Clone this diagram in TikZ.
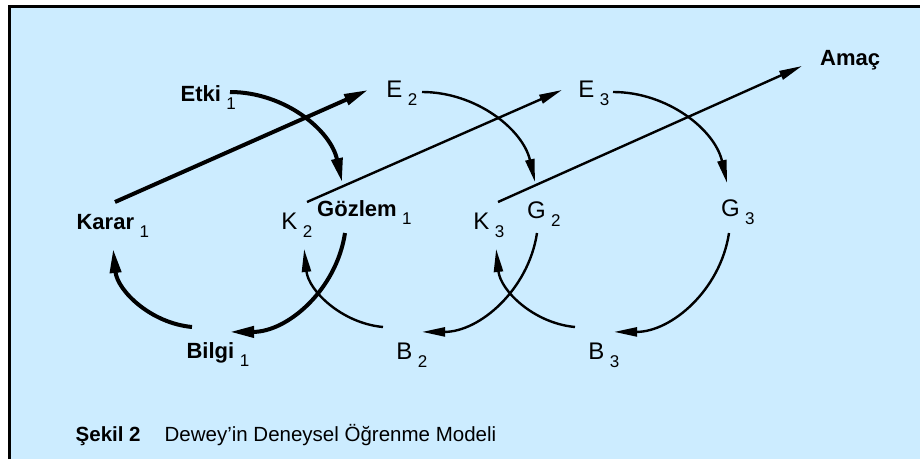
\documentclass[tikz,border=0pt]{standalone}
\usepackage{fontspec}
\setmainfont{Liberation Sans}
\usetikzlibrary{arrows.meta,calc}
\definecolor{bgblue}{RGB}{204,236,255}
\newcommand\lbsub[2]{#1\hspace{5.5pt}\raisebox{-8.5pt}{\fontsize{17}{17}\selectfont\mdseries #2}}
\begin{document}
\begin{tikzpicture}[x=1pt,y=1pt,
  lbl/.style={anchor=base west, inner sep=0pt, font=\fontsize{24}{24}\selectfont},
  blbl/.style={anchor=base west, inner sep=0pt, font=\fontsize{22}{22}\selectfont\bfseries},
  thickc/.style={line width=4pt, -{Triangle[length=24pt,width=11pt]}},
  thinc/.style={line width=2.4pt, -{Triangle[length=23pt,width=9pt]}}]
\useasboundingbox (0,0) rectangle (920,459);
\fill[white] (0,0) rectangle (920,459);
\fill[bgblue] (10,0) rectangle (920,452);
\draw[line width=2.2pt] (9.5,0) -- (9.5,452.5) -- (920,452.5);

% labels
\node[blbl] (etki)   at (180.4,358) {\lbsub{Etki}{1}};
\node[blbl] (karar)  at (76.4,230)  {\lbsub{Karar}{1}};
\node[lbl]  (k2)     at (281.2,230) {\lbsub{K}{2}};
\node[blbl] (gozlem) at (317,243)   {\lbsub{Gözlem}{1}};
\node[lbl]  (e2)     at (386.1,362) {\lbsub{E}{2}};
\node[lbl]  (e3)     at (578.1,362) {\lbsub{E}{3}};
\node[blbl] (amac)   at (820,394)   {Amaç};
\node[lbl]  (g2)     at (526.8,241) {\lbsub{G}{2}};
\node[lbl]  (k3)     at (473.2,230) {\lbsub{K}{3}};
\node[lbl]  (g3)     at (720.8,243) {\lbsub{G}{3}};
\node[blbl] (bilgi)  at (186.4,101) {\lbsub{Bilgi}{1}};
\node[lbl]  (b2)     at (396.2,100) {\lbsub{B}{2}};
\node[lbl]  (b3)     at (588.2,100) {\lbsub{B}{3}};
\node[anchor=base west, inner sep=0pt, font=\fontsize{20.5}{20.5}\selectfont] (caption) at (75.5,18)
  {\textbf{Şekil 2}\hspace{24pt}Dewey’in Deneysel Öğrenme Modeli};

% connector end points
\coordinate (etkiOut)  at (230,367);
\coordinate (e2Out)    at (422,367);
\coordinate (e3Out)    at (613,367);
\coordinate (gozlemOut) at (345,226);
\coordinate (g2Out)    at (537,226);
\coordinate (g3Out)    at (729,226);
\coordinate (bilgiOut) at (192,132);
\coordinate (b2Out)    at (383,132);
\coordinate (b3Out)    at (575,132);
\coordinate (kararOut) at (115,257);
\coordinate (k2Out)    at (307,257);
\coordinate (k3Out)    at (498,257);
\coordinate (e2In)     at (368,369);
\coordinate (e3In)     at (562,369);
\coordinate (amacIn)   at (802,393);

% top arcs E -> G
\draw[thickc] (etkiOut) arc[start angle=90, end angle=12.4, radius=114.7];
\draw[thinc]  (e2Out)   arc[start angle=90, end angle=12.9, radius=115.9];
\draw[thinc]  (e3Out)   arc[start angle=90, end angle=12.8, radius=116.9];
% G -> B arcs
\draw[thickc] (gozlemOut) arc[start angle=351.4, end angle=270, radius=116.3];
\draw[thinc]  (g2Out)     arc[start angle=351.4, end angle=270, radius=116.3];
\draw[thinc]  (g3Out)     arc[start angle=351.4, end angle=270, radius=116.3];
% B -> K arcs
\draw[thickc] (bilgiOut) arc[start angle=264.7, end angle=185.9, radius=87.4];
\draw[thinc]  (b2Out)    arc[start angle=264.7, end angle=185.9, radius=87.4];
\draw[thinc]  (b3Out)    arc[start angle=264.7, end angle=185.9, radius=87.4];
% K -> E straight arrows
\draw[thickc] (kararOut) -- (e2In);
\draw[thinc]  (k2Out)    -- (e3In);
\draw[thinc]  (k3Out)    -- (amacIn);
\end{tikzpicture}
\end{document}
